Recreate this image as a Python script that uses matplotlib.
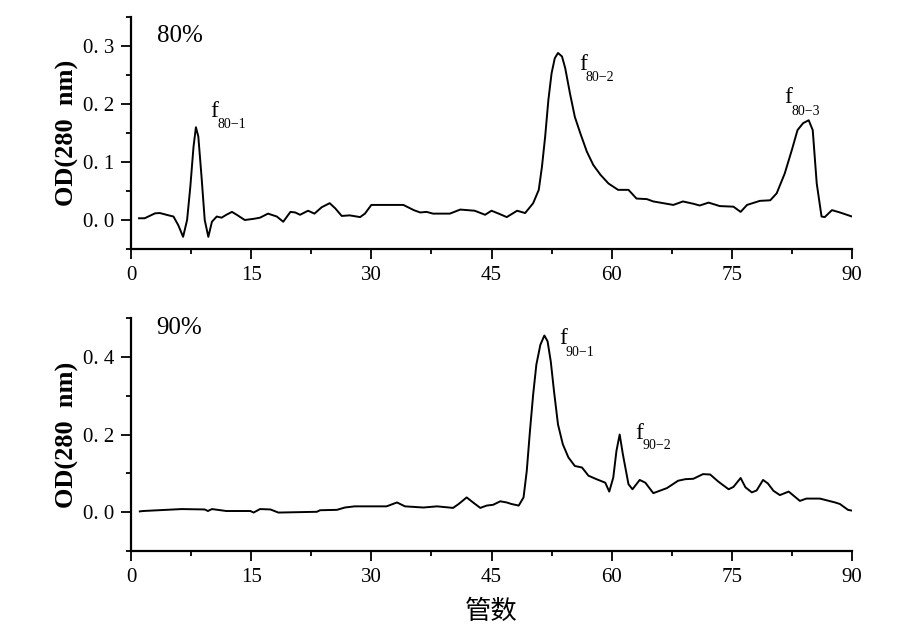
import numpy as np
import matplotlib
matplotlib.use('Agg')
import matplotlib.pyplot as plt
from matplotlib.ticker import MultipleLocator, FixedLocator, FixedFormatter

plt.rcParams['font.family'] = ['Liberation Serif', 'DejaVu Serif']

# 80% fraction - tube number vs OD(280 nm)
tube_80 = [1.0, 1.7, 3.0, 3.6, 4.7, 5.3, 5.9, 6.5, 7.0, 7.4,
           7.8, 8.1, 8.4, 8.8, 9.2, 9.65, 10.1, 10.7, 11.3, 11.9,
           12.6, 13.2, 14.2, 15.3, 16.1, 17.1, 18.2, 19.0, 19.9, 20.5,
           21.1, 22.1, 22.9, 23.8, 24.8, 25.5, 26.3, 27.3, 28.6, 29.2,
           30.0, 31.1, 34.0, 35.3, 36.1, 36.9, 37.7, 39.8, 41.1, 42.9,
           44.2, 45.0, 45.9, 46.9, 48.2, 49.2, 50.2, 50.9, 51.3, 51.7,
           52.1, 52.5, 52.9, 53.3, 53.8, 54.2, 54.8, 55.4, 56.1, 56.9,
           57.7, 58.6, 59.6, 60.8, 62.1, 63.1, 64.4, 65.2, 67.7, 68.9,
           70.2, 71.0, 72.1, 73.5, 75.2, 76.1, 76.9, 78.5, 79.8, 80.6,
           81.6, 82.5, 83.2, 83.9, 84.6, 85.1, 85.6, 86.2, 86.6, 87.5,
           88.5, 90.0]
od_80 = [0.003, 0.003, 0.0115, 0.012, 0.008, 0.006, -0.009, -0.029, 0.0, 0.057,
         0.126, 0.160, 0.144, 0.075, 0.0, -0.029, -0.003, 0.006, 0.004, 0.009,
         0.014, 0.009, 0.0, 0.002, 0.004, 0.011, 0.006, -0.003, 0.014, 0.013,
         0.009, 0.016, 0.011, 0.022, 0.029, 0.020, 0.007, 0.008, 0.005, 0.011,
         0.026, 0.026, 0.026, 0.017, 0.013, 0.014, 0.011, 0.011, 0.018, 0.016,
         0.009, 0.016, 0.011, 0.005, 0.016, 0.012, 0.029, 0.052, 0.092, 0.144,
         0.207, 0.253, 0.279, 0.288, 0.282, 0.262, 0.218, 0.178, 0.149, 0.118,
         0.095, 0.078, 0.063, 0.052, 0.052, 0.037, 0.036, 0.032, 0.026, 0.032,
         0.028, 0.025, 0.030, 0.024, 0.023, 0.014, 0.026, 0.033, 0.034, 0.046,
         0.080, 0.121, 0.155, 0.167, 0.172, 0.155, 0.063, 0.006, 0.005, 0.017,
         0.013, 0.006]

# 90% fraction
tube_90 = [1.1, 1.5, 6.3, 9.2, 9.6, 10.1, 11.9, 14.9, 15.3, 16.1,
           17.4, 18.4, 23.2, 23.6, 25.7, 26.7, 27.9, 31.9, 33.2, 34.2,
           36.5, 38.2, 40.2, 40.9, 41.9, 42.7, 43.6, 44.4, 45.2, 46.1,
           46.9, 47.5, 48.4, 49.0, 49.4, 49.8, 50.2, 50.6, 51.1, 51.6,
           52.0, 52.4, 52.8, 53.3, 53.9, 54.6, 55.4, 56.3, 57.1, 58.1,
           59.2, 59.7, 60.2, 60.6, 61.0, 61.4, 62.1, 62.6, 63.5, 64.2,
           65.2, 66.9, 68.3, 69.2, 70.2, 71.4, 72.3, 73.3, 74.6, 75.2,
           76.1, 76.7, 77.5, 78.1, 78.9, 79.5, 80.2, 81.0, 82.1, 83.5,
           84.3, 86.0, 87.9, 88.5, 89.5, 90.0]
od_90 = [0.002, 0.003, 0.008, 0.007, 0.003, 0.008, 0.003, 0.003, -0.001, 0.008,
         0.007, -0.001, 0.001, 0.005, 0.006, 0.012, 0.015, 0.015, 0.025, 0.015,
         0.012, 0.015, 0.011, 0.021, 0.038, 0.025, 0.011, 0.017, 0.019, 0.028,
         0.025, 0.021, 0.017, 0.038, 0.106, 0.209, 0.303, 0.380, 0.431, 0.455,
         0.440, 0.388, 0.312, 0.226, 0.175, 0.141, 0.119, 0.115, 0.094, 0.085,
         0.076, 0.053, 0.089, 0.158, 0.200, 0.149, 0.072, 0.059, 0.083, 0.076,
         0.049, 0.062, 0.081, 0.085, 0.086, 0.098, 0.097, 0.079, 0.059, 0.065,
         0.088, 0.064, 0.051, 0.056, 0.083, 0.074, 0.055, 0.044, 0.053, 0.029,
         0.035, 0.035, 0.025, 0.021, 0.006, 0.004]

x_ticks = [0, 15, 30, 45, 60, 75, 90]
top_yticks = [0.0, 0.1, 0.2, 0.3]
top_ylabels = ['0. 0', '0. 1', '0. 2', '0. 3']
bot_yticks = [0.0, 0.2, 0.4]
bot_ylabels = ['0. 0', '0. 2', '0. 4']

# peak labels: (main x, main y, sub x, sub y, sub text)
peaks_80 = [(9.86, 0.178, 10.8, 0.159, '80−1'),
            (55.9, 0.259, 56.7, 0.240, '80−2'),
            (81.6, 0.202, 82.4, 0.181, '80−3')]
peaks_90 = [(53.5, 0.432, 54.2, 0.401, '90−1'),
            (63.0, 0.188, 63.8, 0.163, '90−2')]

fig = plt.figure(figsize=(9.08, 6.28), dpi=100)
ax1 = fig.add_axes([0.1443, 0.6035, 0.794, 0.3694])
ax2 = fig.add_axes([0.1443, 0.1226, 0.794, 0.371])


def style_axis(ax, ylim, yticks, ylabels, yminor):
    ax.set_xlim(0, 90)
    ax.set_ylim(*ylim)
    for s in ['top', 'right']:
        ax.spines[s].set_visible(False)
    for s in ['left', 'bottom']:
        ax.spines[s].set_linewidth(1.6)
    ax.xaxis.set_major_locator(FixedLocator(x_ticks))
    ax.xaxis.set_minor_locator(MultipleLocator(7.5))
    ax.yaxis.set_major_locator(FixedLocator(yticks))
    ax.yaxis.set_major_formatter(FixedFormatter(ylabels))
    ax.yaxis.set_minor_locator(MultipleLocator(yminor))
    ax.tick_params(which='major', direction='out', length=7, width=1.3, labelsize=15, pad=5)
    ax.tick_params(which='minor', direction='out', length=3.5, width=1.3)
    ax.set_ylabel('OD(280  nm)', fontsize=19, fontweight='bold', labelpad=3)


ax1.plot(tube_80, od_80, color='black', lw=1.4)
style_axis(ax1, (-0.05, 0.35), top_yticks, top_ylabels, 0.05)
ax1.text(3.2, 0.307, '80%', fontsize=18)
for fx, fy, sx, sy, sub in peaks_80:
    ax1.text(fx, fy, 'f', fontsize=17)
    ax1.text(sx, sy, sub, fontsize=10)

ax2.plot(tube_90, od_90, color='black', lw=1.4)
style_axis(ax2, (-0.1, 0.5), bot_yticks, bot_ylabels, 0.1)
ax2.text(3.2, 0.458, '90%', fontsize=18)
for fx, fy, sx, sy, sub in peaks_90:
    ax2.text(fx, fy, 'f', fontsize=17)
    ax2.text(sx, sy, sub, fontsize=10)

ax2.set_xlabel('管数', fontsize=19, family=['Noto Sans CJK SC', 'DejaVu Sans'], labelpad=8)

fig.savefig('out.png', dpi=100)
